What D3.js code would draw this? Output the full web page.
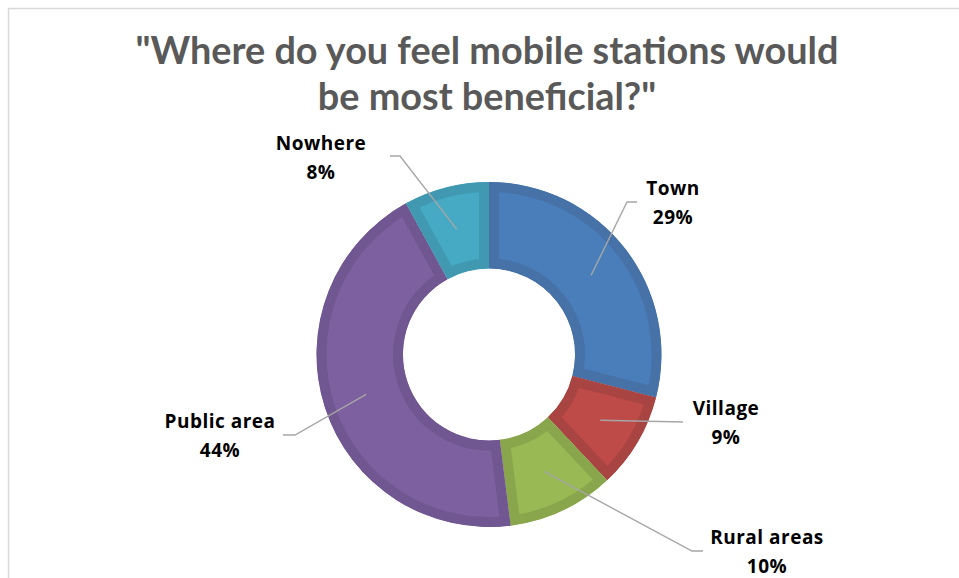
<!DOCTYPE html>
<html>
<head>
<meta charset="utf-8">
<script src="https://cdn.jsdelivr.net/npm/d3@7/dist/d3.min.js"></script>
<style>
  html, body { margin: 0; padding: 0; background: #fff; }
  svg { display: block; }
</style>
</head>
<body>
<svg id="chart" width="959" height="578"></svg>
<script>
// Survey answers, in clockwise order from 12 o'clock
const categories = ["Town", "Village", "Rural areas", "Public area", "Nowhere"];
const percents = [29, 9, 10, 44, 8];
const fillColors = ["#4a7ebb", "#be4b48", "#98b954", "#7d60a0", "#46aac5"];
const edgeColors = ["#4672a8", "#a84441", "#89a64c", "#715791", "#4199b1"];
const titleLines = ["\"Where do you feel mobile stations would", "be most beneficial?\""];

// Label placement: elbow point of each leader line, where it ends, and text centre
const labelLayout = [
  { elbow: [627, 202], end: [637, 202], text: [673, 195] },
  { elbow: [683, 422], end: [683, 422], text: [726, 415] },
  { elbow: [692, 551], end: [703, 551], text: [767, 544] },
  { elbow: [295, 435], end: [283, 435], text: [220, 428] },
  { elbow: [400, 156], end: [390, 156], text: [321, 150] }
];

const W = 959, H = 578;
const cx = 489, cy = 354.5;
const outerR = 172.5, innerR = 86;
const edgeWidth = 10;

const svg = d3.select("#chart");
svg.append("rect").attr("width", W).attr("height", H).attr("fill", "#fff");

// chart area frame
svg.append("rect")
  .attr("x", 8.5).attr("y", 8.5)
  .attr("width", 1200).attr("height", 1200)
  .attr("fill", "none")
  .attr("stroke", "#d9d9d9")
  .attr("stroke-width", 1.5);

// title
const title = svg.append("text")
  .attr("text-anchor", "middle")
  .attr("font-family", "Lato, 'Open Sans', sans-serif")
  .attr("font-weight", 700)
  .attr("font-size", 37.8)
  .attr("fill", "#595959");
titleLines.forEach((t, i) => {
  title.append("tspan").attr("x", 487).attr("y", 64 + i * 46).text(t);
});

const data = categories.map((c, i) => ({ name: c, value: percents[i], i }));
const pie = d3.pie().value(d => d.value).sort(null);
const arcs = pie(data);
const arc = d3.arc().innerRadius(innerR).outerRadius(outerR);

const g = svg.append("g").attr("transform", `translate(${cx},${cy})`);
const defs = svg.append("defs");

arcs.forEach((a, k) => {
  defs.append("clipPath").attr("id", "slice-clip-" + k)
    .append("path").attr("d", arc(a));
});

g.selectAll("path.slice")
  .data(arcs)
  .join("path")
  .attr("class", "slice")
  .attr("d", arc)
  .attr("fill", d => fillColors[d.data.i])
  .attr("stroke", d => edgeColors[d.data.i])
  .attr("stroke-width", edgeWidth * 2)
  .attr("stroke-linejoin", "miter")
  .attr("clip-path", (d, k) => `url(#slice-clip-${k})`);

// leader lines from each slice's centroid
const lines = svg.append("g");
arcs.forEach((a, k) => {
  const c = arc.centroid(a);
  const L = labelLayout[k];
  const pts = [[cx + c[0], cy + c[1]], L.elbow, L.end];
  lines.append("path")
    .attr("d", d3.line()(pts))
    .attr("fill", "none")
    .attr("stroke", "#a6a6a6")
    .attr("stroke-width", 1.4);
});

// labels: category name and percentage
const labels = svg.append("g")
  .attr("font-family", "'Open Sans', Lato, sans-serif")
  .attr("font-weight", 700)
  .attr("font-size", 19)
  .attr("letter-spacing", 0.5)
  .attr("fill", "#000")
  .attr("text-anchor", "middle");
arcs.forEach((a, k) => {
  const L = labelLayout[k];
  const t = labels.append("text");
  t.append("tspan").attr("x", L.text[0]).attr("y", L.text[1]).text(a.data.name);
  t.append("tspan").attr("x", L.text[0]).attr("y", L.text[1] + 28.5).text(a.data.value + "%");
});
</script>
</body>
</html>
